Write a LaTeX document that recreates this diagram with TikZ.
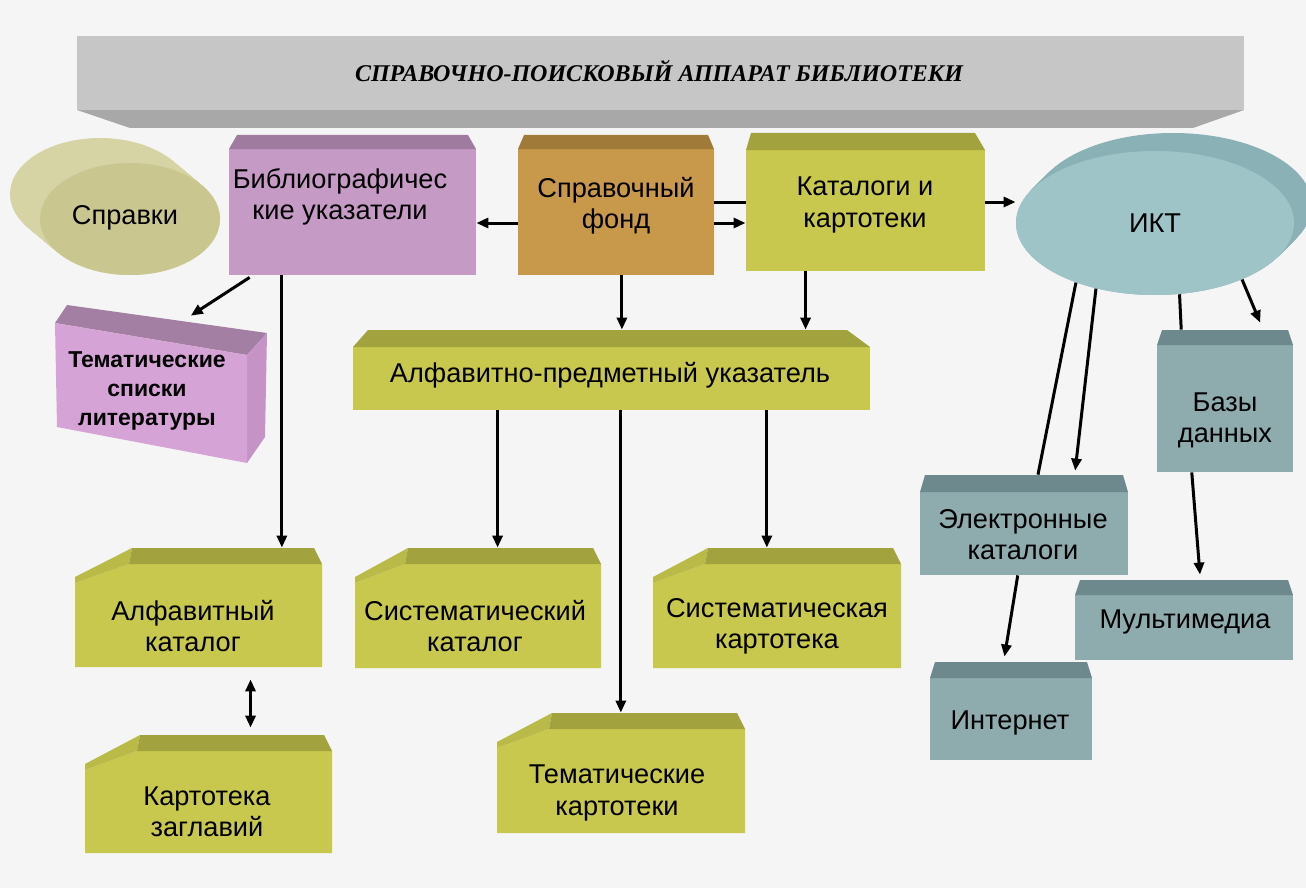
\documentclass[tikz,border=0pt]{standalone}
\usepackage{fontspec}
\setmainfont{Liberation Sans}
\newfontfamily\titlefont{Liberation Serif}
\usetikzlibrary{arrows.meta,shapes.geometric,fit,calc}

\definecolor{bgc}{HTML}{F5F5F5}
\definecolor{banfront}{HTML}{C6C6C6}
\definecolor{banbottom}{HTML}{A8A8A8}
\definecolor{sprfront}{HTML}{C9C78F}
\definecolor{sprside}{HTML}{D6D3A5}
\definecolor{bibfront}{HTML}{C59AC5}
\definecolor{bibtop}{HTML}{9F7B9F}
\definecolor{fondfront}{HTML}{C8984B}
\definecolor{fondtop}{HTML}{9F7A39}
\definecolor{olfront}{HTML}{C8C84E}
\definecolor{oltop}{HTML}{A2A23F}
\definecolor{olchamf}{HTML}{BABA49}
\definecolor{tefront}{HTML}{8EABAE}
\definecolor{tetop}{HTML}{6E898D}
\definecolor{iktfront}{HTML}{9FC4C8}
\definecolor{iktside}{HTML}{89B1B6}
\definecolor{tspfront}{HTML}{D6A3D6}
\definecolor{tsptop}{HTML}{A47FA4}
\definecolor{tspside}{HTML}{C693C6}

\newcommand\TopBox[9]{%
  \fill[#9front] (#2,#3+#6) rectangle (#4,#5);
  \fill[#9top] (#2+#7,#3) -- (#4-#8,#3) -- (#4,#3+#6) -- (#2,#3+#6) -- cycle;
  \node[fit={(#2,#3) (#4,#5)}, inner sep=0pt] (#1) {};
}
\newcommand\ChBox[6]{%
  \fill[olfront] (#2,#5) -- (#2,#3+35) -- (#6-3,#3+16) -- (#4,#3+16) -- (#4,#5) -- cycle;
  \fill[olchamf] (#2,#3+29) -- (#6,#3) -- (#6-3,#3+16) -- (#2,#3+35) -- cycle;
  \fill[oltop] (#6,#3) -- (#4-8,#3) -- (#4,#3+16) -- (#6-3,#3+16) -- cycle;
  \node[fit={(#2,#3) (#4,#5)}, inner sep=0pt] (#1) {};
}

\tikzset{
  lbl/.style={align=center, font=\fontsize{13.6}{15.6}\selectfont, inner sep=0pt},
  conn/.style={line width=1.5pt, black},
  arr/.style={conn, -{Triangle[length=6pt,width=5pt]}},
  darr/.style={conn, {Triangle[length=6pt,width=5pt]}-{Triangle[length=6pt,width=5pt]}},
}

\begin{document}
\begin{tikzpicture}[x=0.5pt,y=-0.5pt]
\fill[bgc] (0,0) rectangle (1306,888);
\useasboundingbox (0,0) rectangle (1306,888);

% banner
\fill[banbottom] (77,110) -- (1244,110) -- (1193,128) -- (130,128) -- cycle;
\fill[banfront] (77,36) rectangle (1244,110);
\node[fit={(77,36) (1244,110)}, inner sep=0pt] (ban) {};
\node[font=\titlefont\bfseries\itshape\fontsize{12}{14}\selectfont] (bantxt) at (659,71) {СПРАВОЧНО-ПОИСКОВЫЙ АППАРАТ БИБЛИОТЕКИ};

% Spravki cylinder
\foreach \t in {0,1,...,24} {
  \fill[sprside] ($(130,219)+\t/24*(-30,-25)$) ellipse [x radius=45pt, y radius=28pt];
}
\node[ellipse, fill=sprfront, minimum width=90pt, minimum height=56pt, inner sep=0pt] (spr) at (130,219) {};
\node[lbl] (sprtxt) at (125,218) {Справки};

% IKT ellipse
\foreach \t in {0,1,...,24} {
  \fill[iktside] ($(1155,223)+\t/24*(18,-18)$) ellipse [x radius=69.5pt, y radius=36pt];
}
\node[ellipse, fill=iktfront, minimum width=139pt, minimum height=72pt, inner sep=0pt] (ikt) at (1155,223) {};
\node[lbl] (ikttxt) at (1155,223) {ИКТ};

% top boxes
\TopBox{bib}{229}{135}{476}{275}{14}{8}{8}{bib}
\node[lbl] at (340,197) {Библиографичес\\кие указатели};
\TopBox{fond}{518}{135}{714}{275}{14}{6}{6}{fond}
\node[lbl] at (616,206) {Справочный\\фонд};
\TopBox{kat}{746}{133}{985}{271}{17}{5}{10}{ol}
\node[lbl] at (865,205) {Каталоги и\\картотеки};
\TopBox{apu}{353}{330}{870}{410}{17}{15}{23}{ol}
\node[lbl] at (610,375) {Алфавитно-предметный указатель};

% teal boxes
\TopBox{bd}{1157}{330}{1293}{472}{15}{5}{5}{te}
\node[lbl] at (1225,420) {Базы\\данных};
\TopBox{ek}{920}{475}{1128}{575}{17}{5}{5}{te}
\node[lbl] at (1023,535) {Электронные\\каталоги};
\TopBox{mm}{1075}{580}{1293}{660}{15}{5}{5}{te}
\node[lbl] at (1185,622) {Мультимедиа};
\TopBox{inet}{930}{662}{1092}{760}{16}{5}{5}{te}
\node[lbl] at (1010,723) {Интернет};

% thematic lists (skewed box)
\fill[tsptop] (67,305) -- (267,333) -- (247,355) -- (55,323) -- cycle;
\fill[tspside] (247,355) -- (267,333) -- (265,437) -- (247,463) -- cycle;
\fill[tspfront] (55,323) -- (247,355) -- (247,463) -- (57,427) -- cycle;
\node[fit={(55,305) (267,463)}, inner sep=0pt] (tsp) {};
\node[lbl, font=\bfseries\fontsize{11.5}{14.5}\selectfont] at (147,391) {Тематические\\списки\\литературы};

% chamfer boxes
\ChBox{alf}{75}{548}{322}{667}{132}
\node[lbl] at (193,626) {Алфавитный\\каталог};
\ChBox{kz}{85}{735}{332}{853}{140}
\node[lbl] at (207,812) {Картотека\\заглавий};
\ChBox{sk}{355}{548}{601}{668}{408}
\node[lbl] at (475,626) {Систематический\\каталог};
\ChBox{skt}{653}{548}{901}{668}{708}
\node[lbl] at (777,626) {Систематическая\\картотека};
\ChBox{tk}{497}{713}{745}{833}{552}
\node[lbl] at (617,793) {Тематические\\картотеки};

% connectors
\draw[arr] ([yshift=-9pt]fond.west) -- ([yshift=-9pt]bib.east);
\draw[conn] (fond.east |- kat.west) -- (kat.west);
\draw[arr] ([yshift=-9pt]fond.east) -- ([yshift=-9pt]fond.east -| kat.west);
\draw[arr] (kat.east) -- (kat.east -| ikt.west);

\coordinate (f1) at ($(fond.south west)!0.53!(fond.south east)$);
\draw[arr] (f1) -- (f1 |- apu.north);
\coordinate (k1) at ($(kat.south west)!0.25!(kat.south east)$);
\draw[arr] (k1) -- (k1 |- apu.north);

\coordinate (b1) at ($(bib.south west)!0.215!(bib.south east)$);
\draw[arr] (b1) -- (b1 |- alf.north);
\coordinate (b2) at ($(bib.south west)!0.085!(bib.south east)$);
\coordinate (t1) at ($(tsp.north west)!0.64!(tsp.north east)$);
\draw[arr] ([yshift=-1pt]b2) -- ([yshift=-5.5pt]t1);

\coordinate (a1) at ($(apu.south west)!0.28!(apu.south east)$);
\draw[arr] (a1) -- (a1 |- sk.north);
\coordinate (a2) at ($(apu.south west)!0.518!(apu.south east)$);
\draw[arr] (a2) -- (a2 |- tk.north);
\coordinate (a3) at ($(apu.south west)!0.80!(apu.south east)$);
\draw[arr] (a3) -- (a3 |- skt.north);

\coordinate (l1) at ($(alf.south west)!0.71!(alf.south east)$);
\draw[darr] ([yshift=-6pt]l1) -- ([yshift=3.5pt]l1 |- kz.north);

\coordinate (e1) at ($(ek.north west)!0.567!(ek.north east)$);
\draw[conn] (ikt.217) -- (e1);
\coordinate (e2) at ($(ek.north west)!0.745!(ek.north east)$);
\draw[arr] (ikt.228) -- ([yshift=2pt]e2);
\coordinate (d1) at ($(bd.north west)!0.18!(bd.north east)$);
\draw[conn] (ikt.289) -- (d1);
\coordinate (d2) at ($(bd.north west)!0.757!(bd.north east)$);
\draw[arr] (ikt.327) -- ([yshift=3.5pt]d2);
\coordinate (d3) at ($(bd.south west)!0.257!(bd.south east)$);
\coordinate (m1) at ($(mm.north west)!0.573!(mm.north east)$);
\draw[arr] (d3) -- ([yshift=2.5pt]m1);
\coordinate (e3) at ($(ek.south west)!0.47!(ek.south east)$);
\coordinate (n1) at ($(inet.north west)!0.46!(inet.north east)$);
\draw[arr] (e3) -- ([yshift=2.5pt]n1);
\end{tikzpicture}
\end{document}
